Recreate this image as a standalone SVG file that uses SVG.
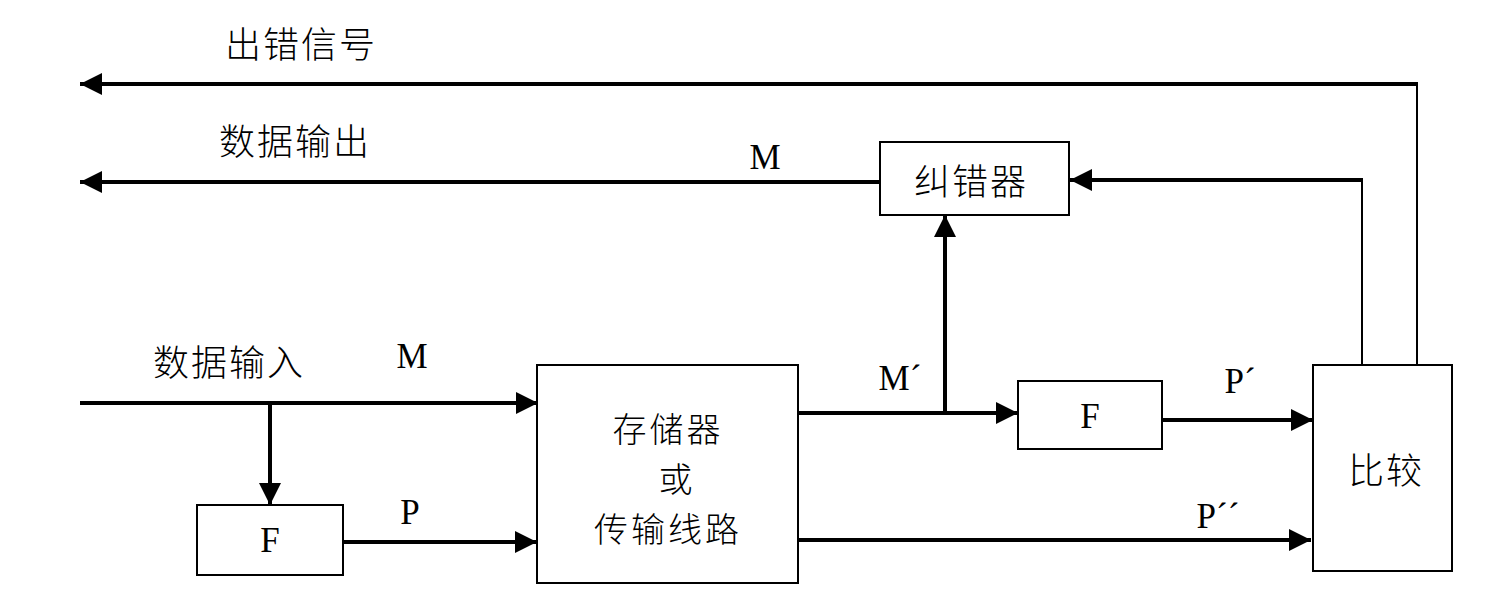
<svg xmlns="http://www.w3.org/2000/svg" width="1505" height="600" viewBox="0 0 1505 600">
  <defs>
    <marker id="arrow" viewBox="0 0 10 10" refX="10" refY="5" markerWidth="24" markerHeight="22" markerUnits="userSpaceOnUse" orient="auto">
      <path d="M0,0 L10,5 L0,10 Z" fill="#000"/>
    </marker>
    <style>
      .box { fill: #fff; stroke: #000; stroke-width: 2; }
      .wire { fill: none; stroke: #000; stroke-width: 4; }
      .thin { fill: none; stroke: #000; stroke-width: 2; }
      .arr { marker-end: url(#arrow); }
      .cn { font-family: "Noto Sans CJK SC", "Noto Sans", sans-serif; font-size: 36px; font-weight: 300; letter-spacing: 2px; fill: #000; }
      .cn-s { font-size: 34px; letter-spacing: 3px; }
      .lat { font-family: "Liberation Serif", "Times New Roman", serif; font-size: 35px; fill: #000; }
      .mid { text-anchor: middle; dominant-baseline: central; }
    </style>
  </defs>

  <!-- connectors -->
  <g id="connectors">
    <!-- error signal output -->
    <path class="thin" d="M1417,365 L1417,84"/>
    <path class="wire arr" d="M1418,84 L80,84"/>
    <!-- compare to corrector -->
    <path class="thin" d="M1362,365 L1362,178"/>
    <path class="wire arr" d="M1363,180 L1070,180"/>
    <!-- data output -->
    <path class="wire arr" d="M880,182 L80,182"/>
    <!-- data input -->
    <path class="wire arr" d="M80,403 L538,403"/>
    <path class="wire arr" d="M270,403 L270,505"/>
    <path class="wire arr" d="M343,542 L537,542"/>
    <!-- channel outputs -->
    <path class="wire arr" d="M798,413 L1018,413"/>
    <path class="wire arr" d="M945,413 L945,215"/>
    <path class="wire arr" d="M1162,420 L1313,420"/>
    <path class="wire arr" d="M798,540 L1311,540"/>
  </g>

  <!-- free labels -->
  <g id="labels">
    <text class="cn mid" x="301" y="42">出错信号</text>
    <text class="cn mid" x="295" y="139">数据输出</text>
    <text class="cn mid" x="229" y="360">数据输入</text>
    <text class="lat mid" x="765" y="157">M</text>
    <text class="lat mid" x="412" y="356">M</text>
    <text class="lat mid" x="900" y="378">M´</text>
    <text class="lat mid" x="410" y="512">P</text>
    <text class="lat mid" x="1240" y="381">P´</text>
    <text class="lat mid" x="1218" y="516">P´´</text>
  </g>

  <g id="corrector">
    <rect class="box" x="880" y="142" width="189" height="73"/>
    <text class="cn mid" x="971" y="179">纠错器</text>
  </g>

  <g id="compare">
    <rect class="box" x="1313" y="365" width="139" height="206"/>
    <text class="cn mid" x="1386" y="468">比较</text>
  </g>

  <g id="encoder-in">
    <rect class="box" x="197" y="505" width="146" height="70"/>
    <text class="lat mid" x="270" y="540">F</text>
  </g>

  <g id="channel">
    <rect class="box" x="537" y="365" width="261" height="218"/>
    <text class="cn cn-s mid" x="668" y="427">存储器</text>
    <text class="cn cn-s mid" x="677" y="477">或</text>
    <text class="cn cn-s mid" x="668" y="527">传输线路</text>
  </g>

  <g id="encoder-out">
    <rect class="box" x="1018" y="381" width="144" height="68"/>
    <text class="lat mid" x="1090" y="416">F</text>
  </g>
</svg>
